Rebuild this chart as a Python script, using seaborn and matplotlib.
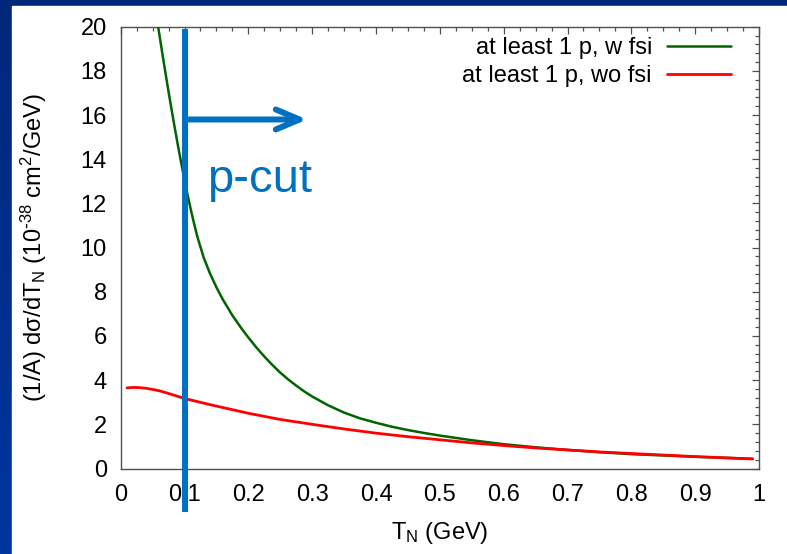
import numpy as np
import pandas as pd
import matplotlib
matplotlib.use("Agg")
import matplotlib.pyplot as plt
from matplotlib.patches import Rectangle
from matplotlib.colors import LinearSegmentedColormap
import seaborn as sns

# ---- data ----
t_fsi = [0.055, 0.06, 0.065, 0.07, 0.075, 0.08, 0.085, 0.09, 0.095, 0.10, 0.105,
         0.11, 0.115, 0.12, 0.13, 0.14, 0.15, 0.16, 0.175, 0.19, 0.20, 0.2125,
         0.225, 0.2375, 0.25, 0.2625, 0.275, 0.2875, 0.30, 0.325, 0.35, 0.375,
         0.40, 0.425, 0.45, 0.475, 0.50, 0.55, 0.60, 0.65, 0.70, 0.75, 0.80,
         0.85, 0.90, 0.95, 0.99]
y_fsi = [20.7, 19.75, 18.83, 17.93, 17.05, 16.2, 15.37, 14.57, 13.8, 13.06, 12.36,
         11.7, 11.08, 10.5, 9.55, 8.82, 8.2, 7.65, 6.93, 6.31, 5.93, 5.48,
         5.07, 4.69, 4.34, 4.03, 3.75, 3.49, 3.26, 2.86, 2.53, 2.27,
         2.07, 1.89, 1.74, 1.61, 1.49, 1.28, 1.10, 0.96, 0.84, 0.74, 0.65,
         0.59, 0.53, 0.48, 0.44]

t_nofsi = [0.01, 0.02, 0.03, 0.04, 0.05, 0.06, 0.07, 0.08, 0.09, 0.10, 0.12, 0.14,
           0.16, 0.18, 0.20, 0.25, 0.30, 0.35, 0.40, 0.45, 0.50, 0.55, 0.60,
           0.65, 0.70, 0.75, 0.80, 0.85, 0.90, 0.95, 0.99]
y_nofsi = [3.65, 3.67, 3.66, 3.63, 3.58, 3.52, 3.44, 3.35, 3.26, 3.17, 3.03, 2.89,
           2.76, 2.63, 2.50, 2.22, 2.00, 1.79, 1.60, 1.44, 1.30, 1.16, 1.04,
           0.93, 0.84, 0.75, 0.68, 0.61, 0.54, 0.48, 0.43]

series_labels = ["at least 1 p, w fsi", "at least 1 p, wo fsi"]
series_colors = ["#006400", "#ff0000"]

x_ticks = [0, 0.1, 0.2, 0.3, 0.4, 0.5, 0.6, 0.7, 0.8, 0.9, 1.0]
x_ticklabels = ["0", "0.1", "0.2", "0.3", "0.4", "0.5", "0.6", "0.7", "0.8", "0.9", "1"]
y_ticks = [0, 2, 4, 6, 8, 10, 12, 14, 16, 18, 20]

cut_x = 0.101
cut_arrow_y = 15.8
cut_arrow_end = 0.292
cut_text = "p-cut"
cut_color = "#0070C0"

# ---- style ----
sns.set_style("white")
plt.rcParams["font.family"] = ["Liberation Sans", "DejaVu Sans"]
plt.rcParams["mathtext.default"] = "regular"
plt.rcParams["text.color"] = "black"
plt.rcParams["axes.labelcolor"] = "black"
plt.rcParams["xtick.color"] = "black"
plt.rcParams["ytick.color"] = "black"

W, H = 787, 554
fig = plt.figure(figsize=(W / 100, H / 100), dpi=100)

# slide background with gradient and white panel
bg = fig.add_axes([0, 0, 1, 1], zorder=-10)
cmap = LinearSegmentedColormap.from_list("slide", ["#00287a", "#0036a0"])
bg.imshow(np.linspace(0, 1, 256).reshape(-1, 1), aspect="auto", cmap=cmap,
          extent=[0, 1, 0, 1], origin="upper")
bg.add_patch(Rectangle((12 / W, 0), 1 - 12 / W, 1 - 6 / H, color="white"))
bg.set_xlim(0, 1)
bg.set_ylim(0, 1)
bg.axis("off")

ax = fig.add_axes([120.7 / W, (H - 468.5) / H, (759 - 120.7) / W, (468.5 - 26.7) / H])
ax.set_facecolor("none")

df1 = pd.DataFrame({"T": t_fsi, "y": y_fsi})
df2 = pd.DataFrame({"T": t_nofsi, "y": y_nofsi})
sns.lineplot(data=df1, x="T", y="y", ax=ax, color=series_colors[0], lw=1.8,
             label=series_labels[0], zorder=3)
sns.lineplot(data=df2, x="T", y="y", ax=ax, color=series_colors[1], lw=2.0,
             label=series_labels[1], zorder=3)

ax.set_xlim(0, 1)
ax.set_ylim(0, 20)
ax.set_xticks(x_ticks)
ax.set_xticklabels(x_ticklabels)
ax.set_yticks(y_ticks)
ax.set_xticks(np.arange(0, 1.0001, 0.025), minor=True)
ax.set_yticks(np.arange(0, 20.001, 0.4), minor=True)
ax.tick_params(which="both", direction="in", top=True, right=True,
               color="#505050", width=0.9, labelsize=17, labelcolor="black")
ax.tick_params(which="major", length=5)
ax.tick_params(which="minor", length=2.6)
ax.tick_params(axis="x", which="major", pad=11)
ax.tick_params(axis="y", which="major", pad=10)
for s in ax.spines.values():
    s.set_color("#505050")
    s.set_linewidth(1.0)
    s.set_visible(True)

ax.set_xlabel("T$_N$ (GeV)", fontsize=17, labelpad=10, color="black")
ax.set_ylabel("")
fig.text(34 / W, 1 - 247.5 / H, "(1/A) dσ/dT$_N$ (10$^{\\text{-}38}$ cm$^2$/GeV)",
         rotation=90, ha="center", va="center", fontsize=17, color="black")

leg = ax.legend(loc="upper right", bbox_to_anchor=(731 / W, 1 - 37 / H),
                bbox_transform=fig.transFigure, frameon=False, markerfirst=False,
                fontsize=17, handlelength=2.7, handletextpad=0.65,
                labelspacing=0.25, borderpad=0, borderaxespad=0)
for txt in leg.get_texts():
    txt.set_color("black")

# p-cut annotation
ax.plot([cut_x, cut_x], [-1.97, 19.9], color=cut_color, lw=4.3,
        solid_capstyle="butt", clip_on=False, zorder=5)
ax.annotate("", xy=(cut_arrow_end, cut_arrow_y), xytext=(cut_x, cut_arrow_y),
            arrowprops=dict(arrowstyle="->,head_length=0.85,head_width=0.36",
                            color=cut_color, lw=4.3, shrinkA=0, shrinkB=0,
                            mutation_scale=20), zorder=5)
ax.text(0.136, 12.5, cut_text, color=cut_color, fontsize=34, ha="left",
        va="baseline", zorder=5)

fig.savefig("out.png", dpi=100)
